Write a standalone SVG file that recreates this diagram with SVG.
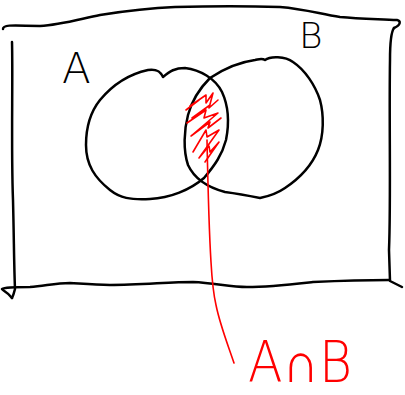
<svg xmlns="http://www.w3.org/2000/svg" width="405" height="395" viewBox="0 0 405 395">
<style>
.k{fill:none;stroke:#000;stroke-width:2.5;stroke-linecap:round;stroke-linejoin:round}
.r{fill:none;stroke:#f00;stroke-width:1.6;stroke-linecap:round;stroke-linejoin:round}
.t{font-family:"DejaVu Sans","Liberation Sans",sans-serif;font-weight:200}
</style>
<rect width="405" height="395" fill="#fff"/>
<g id="universe">
<path class="k" d="M3,29 C3,25 8,25 40,26 C60,25 80,19 100,15 C125,11 150,8 175,7 C210,6 250,6 280,7 C305,9 320,14 340,17 C360,19 380,19 397,20 C401,21 401,25 394,28"/>
<path class="k" d="M394,28 C391,32 390,40 390,60 C389,120 391,200 389,250 L390,281 L402,287"/>
<path class="k" d="M12,42 C13,80 11,150 13,200 C14,240 14,265 15,289 C14,293 13,296 12,298"/>
<path class="k" d="M2,289 C5,287 15,287 30,287 C45,286 55,283 70,283 C85,284 95,285 110,285 C140,285 170,282 193,282 C215,283 230,287 247,287 C270,287 295,284 313,282 C335,281 360,280 389,280"/>
<path class="k" d="M3,290 C6,292 9,294 12,298"/>
</g>
<g id="setA">
<path class="k" d="M163,77 C170,71 175,68 185,68 C200,70 215,78 222,92 C228,105 230,120 226,140 C222,155 215,165 204,178 C190,190 170,198 150,199 C130,200 120,198 110,190 C95,178 86,165 86,145 C86,125 92,110 100,100 C110,88 125,75 148,70 C155,69 160,70 163,77 Z"/>
</g>
<g id="setB">
<path class="k" d="M265,60 C270,56 285,56 293,62 C305,70 315,85 320,100 C324,115 324,135 318,150 C312,165 300,178 285,188 C275,195 265,197 260,198 C250,196 240,194 225,192 C210,188 195,180 188,165 C183,150 184,130 188,115 C192,100 200,88 210,78 C225,68 240,62 255,60 C260,59 262,58 265,60 Z"/>
</g>
<g id="hatch">
<path class="r" d="M190,106 L206,95 L206,103 L213,93 L209,108 L218,100 M187,123 L206,110 L204,118 L218,113 L191,136 L210,122 L208,128 L221,118 M193,152 L206,130 L207,137 L219,130 L199,158 L209,146 L210,152 L219,142 L205,162 M199,100 L186,110 M210,105 L192,118"/>
</g>
<g id="connectors">
<path class="r" d="M207,140 C208,190 209,230 211,262 C212,280 213,292 216,305 C220,325 228,345 234,363"/>
</g>
<g id="labels">
<text class="t" x="62" y="83" font-size="42">A</text>
<text class="t" x="299" y="48" font-size="36">B</text>
<text class="t" x="248" y="382" font-size="57" fill="#f00" textLength="104" lengthAdjust="spacingAndGlyphs">A∩B</text>
</g>
</svg>
